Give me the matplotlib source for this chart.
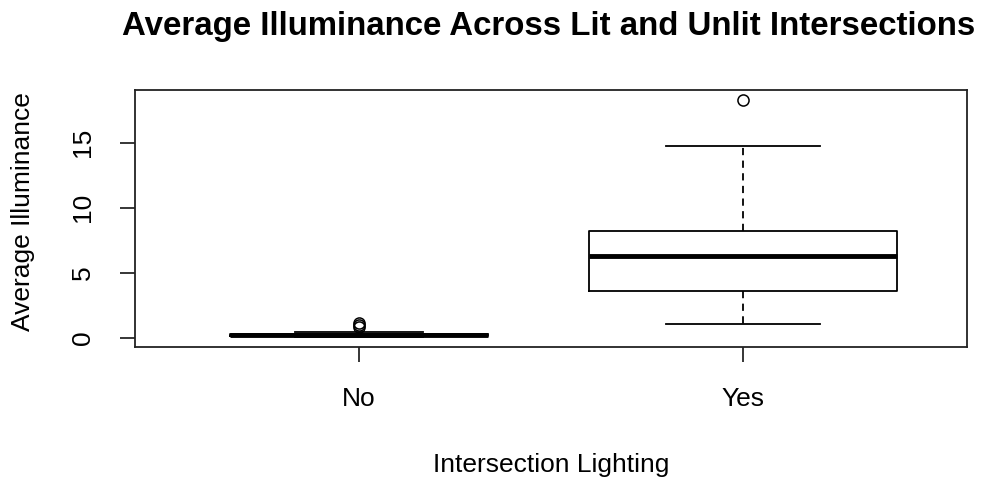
import matplotlib
matplotlib.use('Agg')
import matplotlib.pyplot as plt

plt.rcParams['font.family'] = ['Liberation Sans', 'DejaVu Sans']

# Data
groups = ['No', 'Yes']
whislo = [0.02, 1.05]
q1 = [0.08, 3.56]
med = [0.17, 6.25]
q3 = [0.28, 8.23]
whishi = [0.42, 14.72]
fliers = [[0.8, 0.95, 1.1], [18.25]]
widths = [0.67, 0.80]

stats = []
for i, name in enumerate(groups):
    stats.append(dict(label=name, whislo=whislo[i], q1=q1[i], med=med[i],
                      q3=q3[i], whishi=whishi[i], fliers=fliers[i]))

fig = plt.figure(figsize=(9.87, 4.82), dpi=100)
ax = fig.add_axes([135 / 987, 1 - 347 / 482, 832 / 987, 257 / 482])

ax.bxp(stats, positions=[1, 2], widths=widths, showfliers=True,
       boxprops=dict(color='black', linewidth=1.3),
       whiskerprops=dict(color='black', linewidth=1.3, linestyle=(0, (4, 3))),
       capprops=dict(color='black', linewidth=1.3),
       medianprops=dict(color='black', linewidth=3.5, solid_capstyle='butt'),
       flierprops=dict(marker='o', markerfacecolor='none', markeredgecolor='black',
                       markersize=8, markeredgewidth=1.1))

ax.set_xlim(0.417, 2.583)
ax.set_ylim(-0.73, 19.05)
ax.set_yticks([0, 5, 10, 15])
ax.set_xticks([1, 2])
ax.set_xticklabels(groups)
ax.tick_params(axis='both', length=11, width=1.1, labelsize=19, colors='black')
ax.tick_params(axis='y', pad=18)
ax.tick_params(axis='x', pad=18)
for lab in ax.get_yticklabels():
    lab.set_rotation(90)
    lab.set_va('center')
for sp in ax.spines.values():
    sp.set_linewidth(1.3)
    sp.set_color('#222222')

ax.set_xlabel('Intersection Lighting', fontsize=19, labelpad=30)
ax.set_ylabel('Average Illuminance', fontsize=19, va='center')
ax.yaxis.set_label_coords(-0.1346, 0.527)
fig.text(0.5557, 0.944, 'Average Illuminance Across Lit and Unlit Intersections',
         fontsize=23.8, fontweight='bold', ha='center', va='center')

fig.savefig('out.png', dpi=100)
